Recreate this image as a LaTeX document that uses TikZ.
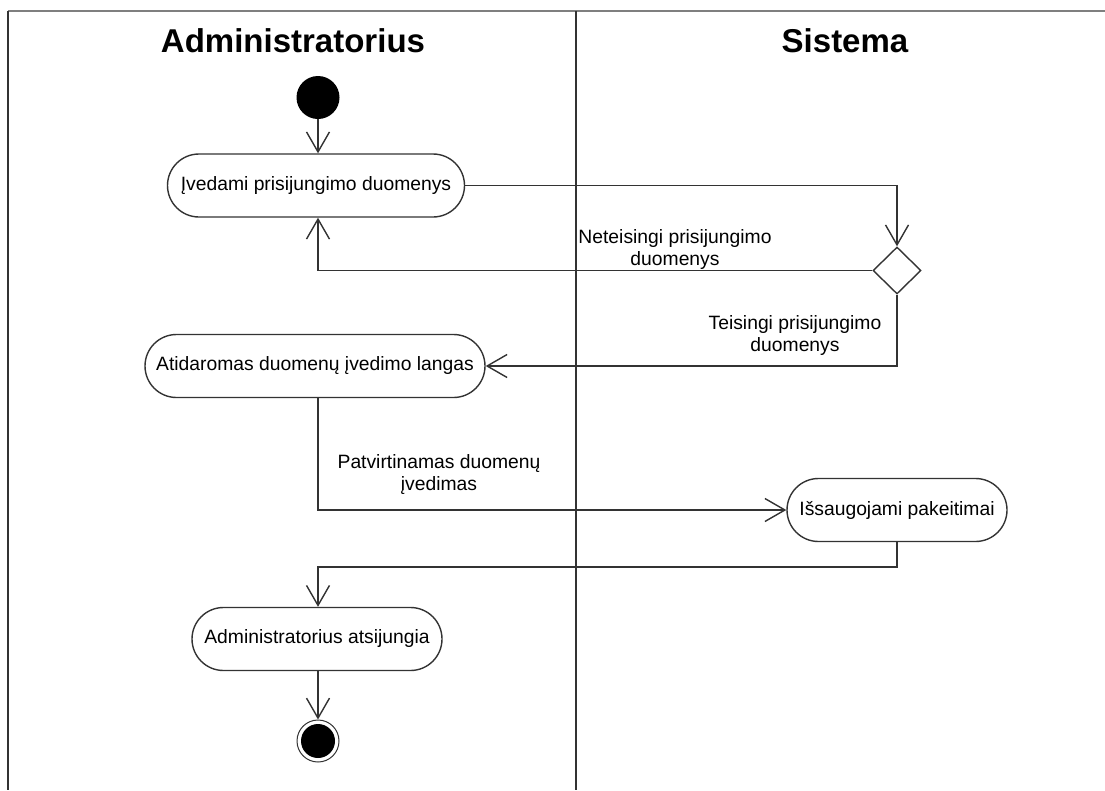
\documentclass[tikz,border=0pt]{standalone}
\usepackage{fontspec}
\setmainfont{Liberation Sans}
\usetikzlibrary{arrows.meta,shapes.misc,shapes.geometric}

\definecolor{linec}{HTML}{333333}
\definecolor{framec}{HTML}{7F7F7F}

\begin{document}
\begin{tikzpicture}[x=1pt,y=-1pt,
  act/.style={rounded rectangle, draw=linec, line width=1.4pt, fill=white,
    minimum height=63pt, inner sep=0pt, text=black,
    font=\fontsize{19.3}{23}\selectfont},
  flow/.style={draw=linec, line width=1.4pt,
    -{Straight Barb[length=20pt,width=23pt,line width=1.4pt]}},
  lbl/.style={align=center, inner sep=0pt, text=black,
    font=\fontsize{19.3}{22}\selectfont},
  lanehead/.style={anchor=base, font=\fontsize{33}{38}\selectfont\bfseries, text=black},
]
\useasboundingbox (0,0) rectangle (1105,790);
\fill[white] (0,0) rectangle (1105,790);

% swimlane frame
\draw[framec, line width=2.5pt] (8,11) -- (1105,11);
\draw[linec, line width=1.4pt] (8,11) -- (8,790);
\draw[linec, line width=1.4pt] (576,11) -- (576,790);

\node[lanehead] (hadmin) at (293,52) {Administratorius};
\node[lanehead] (hsys) at (845,52) {Sistema};

% column of the left lane
\coordinate (lane) at (318,0);

% nodes
\node[circle, fill=black, minimum size=43pt, inner sep=0pt] (start) at (318,97.5) {};
\node[act, minimum width=297pt] (a1) at (316,185.5) {Įvedami prisijungimo duomenys};
\node[diamond, draw=linec, line width=1.4pt, fill=white, minimum width=48pt,
      minimum height=47pt, inner sep=0pt] (dec) at (897,270.5) {};
\node[act, minimum width=340pt] (a2) at (315,366) {Atidaromas duomenų įvedimo langas};
\node[act, minimum width=220pt] (a3) at (897,510) {Išsaugojami pakeitimai};
\node[act, minimum width=250pt] (a4) at (317,639) {Administratorius atsijungia};
\node[circle, draw=linec, line width=1pt, fill=white, minimum size=42pt,
      inner sep=0pt] (end) at (318,741) {};
\fill[black] (end.center) circle (17pt);

% transitions
\draw[flow] (start) -- (lane |- a1.north);
\draw[flow] (a1.east) -| (dec.north);
\draw[flow] (dec.west) -| (lane |- a1.south);
\draw[flow] (dec.south) |- (a2.east);
\draw[flow] (lane |- a2.south) |- (a3.west);
\coordinate (join) at (897,567);
\draw[flow] (a3.south) -- (join) -| (lane |- a4.north);
\draw[flow] (lane |- a4.south) -- (end.north);

% guard labels
\node[lbl] (gno) at (675,250) {Neteisingi prisijungimo\\duomenys};
\node[lbl] (gyes) at (795,336) {Teisingi prisijungimo\\duomenys};
\node[lbl] (gok) at (439,475) {Patvirtinamas duomenų\\įvedimas};
\end{tikzpicture}
\end{document}
